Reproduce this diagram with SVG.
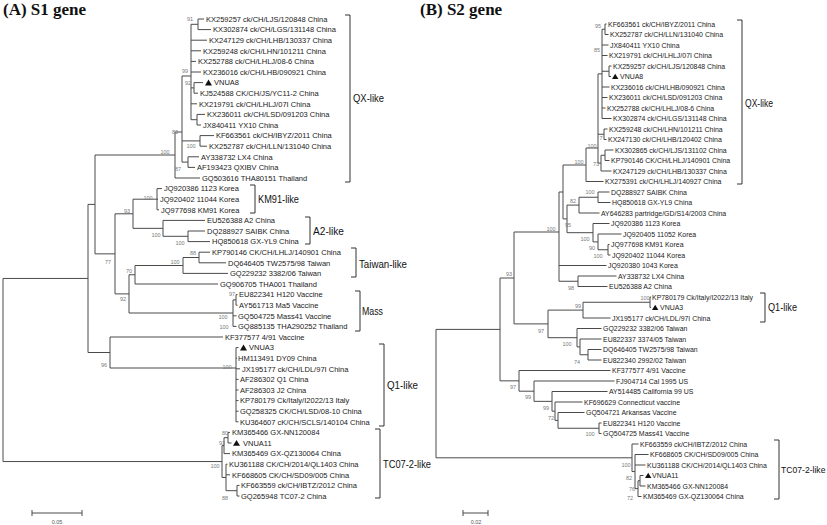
<svg xmlns="http://www.w3.org/2000/svg" width="827" height="525" viewBox="0 0 827 525">
<defs>
<style>
.l{stroke:#4a4a4a;stroke-width:1;fill:none}
.k{stroke:#333;stroke-width:1;fill:none}
.t{font-family:"Liberation Sans",Arial,sans-serif;font-size:7.5px;fill:#1a1a1a}
.r{font-family:"Liberation Sans",Arial,sans-serif;font-size:6.95px;fill:#1a1a1a}
.b{font-family:"Liberation Sans",Arial,sans-serif;font-size:5.5px;fill:#7a7a7a;text-anchor:middle}
.c{font-family:"Liberation Sans",Arial,sans-serif;font-size:11px;fill:#111}
.cr{font-family:"Liberation Sans",Arial,sans-serif;font-size:10px;fill:#111}
.h{font-family:"Liberation Serif","Times New Roman",serif;font-size:17px;font-weight:bold;fill:#111}
.s{font-family:"Liberation Sans",Arial,sans-serif;font-size:5.5px;fill:#555;text-anchor:middle}
</style>
<path id="tri" d="M0,2.8H7L3.5,-3Z" fill="#111"/>
<path id="trir" d="M0,2.6H6.4L3.2,-2.8Z" fill="#111"/>
</defs>
<rect width="827" height="525" fill="#fff"/>
<text class="h" x="3" y="15">(A) S1 gene</text>
<text class="h" x="420" y="15">(B) S2 gene</text>

<g id="connectors">
<path class="l" d="M3,278.45V461.55M3,278.45H88M3,461.55H222
M88,204.4V352.5M88,204.4H95M88,352.5H110
M95,155V253.85M95,155H175M95,253.85H115
M175,132V178M175,132H182M175,178H200
M182,76V162.1M182,76H191M182,140.9H200M182,162.1H188
M191,24.3V119.7M191,24.3H198M191,40.2H207M191,50.8H201M191,61.4H196M191,72H201M191,87.9H194M191,103.8H197M191,119.7H197
M198,19V29.6M198,19H204M198,29.6H211
M194,82.6V93.2M194,82.6H203M194,93.2H198
M197,114.4V125M197,114.4H205M197,125H201
M200,135.6V146.2M200,135.6H214M200,146.2H207
M188,156.8V167.4M188,156.8H199M188,167.4H195
M115,213.8V293.9M115,213.8H133M115,293.9H129
M133,199.2V228.35M133,199.2H157M133,228.35H163
M157,188.6V209.8M157,188.6H162M157,199.2H158M157,209.8H159
M163,220.4V236.3M163,220.4H205M163,236.3H188
M188,231V241.6M188,231H205M188,241.6H210
M129,274.75V313M129,274.75H135M129,313H233
M135,265.5V284M135,265.5H183M135,284H218
M183,257.5V273.4M183,257.5H199M183,273.4H228
M199,252.2V262.8M199,252.2H210M199,262.8H226
M233,299.9V326.4M233,299.9H236M233,315.8H236.5M233,326.4H236.5
M236,294.6V305.2M236,294.6H237.5M236,305.2H237.5
M110,337V368M110,337H223M110,368H236
M236,347.6V421.8M236,347.6H238.5M236,358.2H237M236,368.8H240M236,379.4H238.5M236,390H238.5M236,400.6H238.5M236,411.2H238.5M236,421.8H238.5
M222,445.65V477.45M222,445.65H224M222,477.45H226
M224,437.7V453.6M224,437.7H228M224,453.6H230
M228,432.4V443M228,432.4H230M228,443H231.5
M226,464.2V490.7M226,464.2H227.5M226,474.8H230M226,490.7H237
M237,485.4V496M237,485.4H239.5M237,496H239.5"/>
<path class="l" d="M436,329.4V457.8M436,329.4H500M436,457.8H632
M500,278V380.85M500,278H514M500,380.85H519
M514,232V323.9M514,232H559M514,323.9H548
M559,192V281.25M559,192H563M559,265.5H606.5M559,281.25H578
M563,165V218.9M563,165H586M563,218.9H567
M586,148V181.5M586,148H598M586,181.5H603.5
M598,73.9V163.1M598,73.9H602M598,134.25H604M598,163.1H601
M602,29.25V118.5M602,29.25H605M602,45H608.5M602,55.5H607.5M602,71.25H609M602,87H609.5M602,97.5H607.5M602,108H605.5M602,118.5H611.5
M605,24V34.5M605,24H606.5M605,34.5H608.5
M609,66V76.5M609,66H611.5M609,76.5H611
M604,129V139.5M604,129H607.5M604,139.5H606.5
M601,155.25V171M601,155.25H605M601,171H611.5
M605,150V160.5M605,150H613.5M605,160.5H609.5
M567,205.1V232.7M567,205.1H579M567,232.7H593
M579,197.25V213M579,197.25H598M579,213H599.5
M598,192V202.5M598,192H609.5M598,202.5H610.5
M593,223.5V241.9M593,223.5H609.5M593,241.9H598
M598,234V249.75M598,234H621.5M598,249.75H608
M608,244.5V255M608,244.5H609.5M608,255H610.5
M578,276V286.5M578,276H616.5M578,286.5H607.5
M548,310.1V337.7M548,310.1H583M548,337.7H577
M583,302.25V318M583,302.25H650M583,318H610.5
M650,297V307.5M650,297H651M650,307.5H651
M577,328.5V346.9M577,328.5H601.5M577,346.9H580
M580,339V354.75M580,339H601.5M580,354.75H588
M588,349.5V360M588,349.5H601.5M588,360H601.5
M519,370.5V391.2M519,370.5H610.5M519,391.2H534
M534,381V401.35M534,381H614.5M534,401.35H552
M552,391.5V411.2M552,391.5H607.5M552,411.2H555
M555,402V420.4M555,402H582.5M555,420.4H558
M558,412.5V428.25M558,412.5H584.5M558,428.25H599
M599,423V433.5M599,423H601.5M599,433.5H601.5
M632,444V471.55M632,444H638.5M632,471.55H635
M635,454.5V488.6M635,454.5H648.5M635,465H645.5M635,488.6H638
M638,480.75V496.5M638,480.75H640M638,496.5H641.5
M640,475.5V486M640,475.5H643.5M640,486H645.5"/>
</g>

<g id="scale-bars">
<path class="l" d="M32,513H82M32,510V516M82,510V516M463,513H488M463,510V516M488,510V516"/>
<text class="s" x="57" y="524">0.05</text>
<text class="s" x="476" y="524">0.02</text>
</g>

<g id="left-leaves">
<g id="L0"><text class="t" x="206" y="21.7">KX259257 ck/CH/LJS/120848 China</text></g>
<g id="L1"><text class="t" x="213" y="32.3">KX302874 ck/CH/LGS/131148 China</text></g>
<g id="L2"><text class="t" x="209" y="42.9">KX247129 ck/CH/LHB/130337 China</text></g>
<g id="L3"><text class="t" x="203" y="53.5">KX259248 ck/CH/LHN/101211 China</text></g>
<g id="L4"><text class="t" x="198" y="64.1">KX252788 ck/CH/LHLJ/08-6 China</text></g>
<g id="L5"><text class="t" x="203" y="74.7">KX236016 ck/CH/LHB/090921 China</text></g>
<g id="L6"><use href="#tri" x="205" y="82.6"/><text class="t" x="214" y="85.3">VNUA8</text></g>
<g id="L7"><text class="t" x="200" y="95.9">KJ524588 CK/CH/JS/YC11-2 China</text></g>
<g id="L8"><text class="t" x="199" y="106.5">KX219791 ck/CH/LHLJ/07I China</text></g>
<g id="L9"><text class="t" x="207" y="117.1">KX236011 ck/CH/LSD/091203 China</text></g>
<g id="L10"><text class="t" x="203" y="127.7">JX840411 YX10 China</text></g>
<g id="L11"><text class="t" x="216" y="138.3">KF663561 ck/CH/IBYZ/2011 China</text></g>
<g id="L12"><text class="t" x="209" y="148.9">KX252787 ck/CH/LLN/131040 China</text></g>
<g id="L13"><text class="t" x="201" y="159.5">AY338732 LX4 China</text></g>
<g id="L14"><text class="t" x="197" y="170.1">AF193423 QXIBV China</text></g>
<g id="L15"><text class="t" x="202" y="180.7">GQ503616 THA80151 Thailand</text></g>
<g id="L16"><text class="t" x="164" y="191.3">JQ920386 1123 Korea</text></g>
<g id="L17"><text class="t" x="160" y="201.9">JQ920402 11044 Korea</text></g>
<g id="L18"><text class="t" x="161" y="212.5">JQ977698 KM91 Korea</text></g>
<g id="L19"><text class="t" x="207" y="223.1">EU526388 A2 China</text></g>
<g id="L20"><text class="t" x="207" y="233.7">DQ288927 SAIBK China</text></g>
<g id="L21"><text class="t" x="212" y="244.3">HQ850618 GX-YL9 China</text></g>
<g id="L22"><text class="t" x="212" y="254.9">KP790146 CK/CH/LHLJ/140901 China</text></g>
<g id="L23"><text class="t" x="228" y="265.5">DQ646405 TW2575/98 Taiwan</text></g>
<g id="L24"><text class="t" x="230" y="276.1">GQ229232 3382/06 Taiwan</text></g>
<g id="L25"><text class="t" x="220" y="286.7">GQ906705 THA001 Thailand</text></g>
<g id="L26"><text class="t" x="239" y="297.3">EU822341 H120 Vaccine</text></g>
<g id="L27"><text class="t" x="239" y="307.9">AY561713 Ma5 Vaccine</text></g>
<g id="L28"><text class="t" x="238" y="318.5">GQ504725 Mass41 Vaccine</text></g>
<g id="L29"><text class="t" x="238" y="329.1">GQ885135 THA290252 Thailand</text></g>
<g id="L30"><text class="t" x="225" y="339.7">KF377577 4/91 Vaccine</text></g>
<g id="L31"><use href="#tri" x="240" y="347.6"/><text class="t" x="249" y="350.3">VNUA3</text></g>
<g id="L32"><text class="t" x="238" y="360.9">HM113491 DY09 China</text></g>
<g id="L33"><text class="t" x="242" y="371.5">JX195177 ck/CH/LDL/97I China</text></g>
<g id="L34"><text class="t" x="240" y="382.1">AF286302 Q1 China</text></g>
<g id="L35"><text class="t" x="240" y="392.7">AF286303 J2 China</text></g>
<g id="L36"><text class="t" x="240" y="403.3">KP780179 Ck/Italy/I2022/13 Italy</text></g>
<g id="L37"><text class="t" x="240" y="413.9">GQ258325 CK/CH/LSD/08-10 China</text></g>
<g id="L38"><text class="t" x="240" y="424.5">KU364607 cK/CH/SCLS/140104 China</text></g>
<g id="L39"><text class="t" x="232" y="435.1">KM365466 GX-NN120084</text></g>
<g id="L40"><use href="#tri" x="233" y="443"/><text class="t" x="243" y="445.7">VNUA11</text></g>
<g id="L41"><text class="t" x="232" y="456.3">KM365469 GX-QZ130064 China</text></g>
<g id="L42"><text class="t" x="229" y="466.9">KU361188 CK/CH/2014/QL1403 China</text></g>
<g id="L43"><text class="t" x="232" y="477.5">KF668605 CK/CH/SD09/005 China</text></g>
<g id="L44"><text class="t" x="241" y="488.1">KF663559 ck/CH/IBTZ/2012 China</text></g>
<g id="L45"><text class="t" x="241" y="498.7">GQ265948 TC07-2 China</text></g>
</g>

<g id="right-leaves">
<g id="R0"><text class="r" x="608" y="26.5">KF663561 ck/CH/IBYZ/2011 China</text></g>
<g id="R1"><text class="r" x="610" y="37">KX252787 ck/CH/LLN/131040 China</text></g>
<g id="R2"><text class="r" x="610" y="47.5">JX840411 YX10 China</text></g>
<g id="R3"><text class="r" x="609" y="58">KX219791 ck/CH/LHLJ/07I China</text></g>
<g id="R4"><text class="r" x="613" y="68.5">KX259257 ck/CH/LJS/120848 China</text></g>
<g id="R5"><use href="#trir" x="612" y="76.5"/><text class="r" x="620" y="79">VNUA8</text></g>
<g id="R6"><text class="r" x="611" y="89.5">KX236016 ck/CH/LHB/090921 China</text></g>
<g id="R7"><text class="r" x="609" y="100">KX236011 ck/CH/LSD/091203 China</text></g>
<g id="R8"><text class="r" x="607" y="110.5">KX252788 ck/CH/LHLJ/08-6 China</text></g>
<g id="R9"><text class="r" x="613" y="121">KX302874 ck/CH/LGS/131148 China</text></g>
<g id="R10"><text class="r" x="609" y="131.5">KX259248 ck/CH/LHN/101211 China</text></g>
<g id="R11"><text class="r" x="608" y="142">KX247130 ck/CH/LHB/120402 China</text></g>
<g id="R12"><text class="r" x="615" y="152.5">KX302865 ck/CH/LJS/131102 China</text></g>
<g id="R13"><text class="r" x="611" y="163">KP790146 CK/CH/LHLJ/140901 China</text></g>
<g id="R14"><text class="r" x="613" y="173.5">KX247129 ck/CH/LHB/130337 China</text></g>
<g id="R15"><text class="r" x="605" y="184">KX275391 ck/CH/LHLJ/140927 China</text></g>
<g id="R16"><text class="r" x="611" y="194.5">DQ288927 SAIBK China</text></g>
<g id="R17"><text class="r" x="612" y="205">HQ850618 GX-YL9 China</text></g>
<g id="R18"><text class="r" x="601" y="215.5">AY646283 partridge/GD/S14/2003 China</text></g>
<g id="R19"><text class="r" x="611" y="226">JQ920386 1123 Korea</text></g>
<g id="R20"><text class="r" x="623" y="236.5">JQ920405 11052 Korea</text></g>
<g id="R21"><text class="r" x="611" y="247">JQ977698 KM91 Korea</text></g>
<g id="R22"><text class="r" x="612" y="257.5">JQ920402 11044 Korea</text></g>
<g id="R23"><text class="r" x="608" y="268">JQ920380 1043 Korea</text></g>
<g id="R24"><text class="r" x="618" y="278.5">AY338732 LX4 China</text></g>
<g id="R25"><text class="r" x="609" y="289">EU526388 A2 China</text></g>
<g id="R26"><text class="r" x="652" y="299.5">KP780179 Ck/Italy/I2022/13 Italy</text></g>
<g id="R27"><use href="#trir" x="652" y="307.5"/><text class="r" x="660" y="310">VNUA3</text></g>
<g id="R28"><text class="r" x="612" y="320.5">JX195177 ck/CH/LDL/97I China</text></g>
<g id="R29"><text class="r" x="603" y="331">GQ229232 3382/06 Taiwan</text></g>
<g id="R30"><text class="r" x="603" y="341.5">EU822337 3374/05 Taiwan</text></g>
<g id="R31"><text class="r" x="603" y="352">DQ646405 TW2575/98 Taiwan</text></g>
<g id="R32"><text class="r" x="603" y="362.5">EU822340 2992/02 Taiwan</text></g>
<g id="R33"><text class="r" x="612" y="373">KF377577 4/91 Vaccine</text></g>
<g id="R34"><text class="r" x="616" y="383.5">FJ904714 Cal 1995 US</text></g>
<g id="R35"><text class="r" x="609" y="394">AY514485 California 99 US</text></g>
<g id="R36"><text class="r" x="584" y="404.5">KF696629 Connecticut vaccine</text></g>
<g id="R37"><text class="r" x="586" y="415">GQ504721 Arkansas Vaccine</text></g>
<g id="R38"><text class="r" x="603" y="425.5">EU822341 H120 Vaccine</text></g>
<g id="R39"><text class="r" x="603" y="436">GQ504725 Mass41 Vaccine</text></g>
<g id="R40"><text class="r" x="640" y="446.5">KF663559 ck/CH/IBTZ/2012 China</text></g>
<g id="R41"><text class="r" x="650" y="457">KF668605 CK/CH/SD09/005 China</text></g>
<g id="R42"><text class="r" x="647" y="467.5">KU361188 CK/CH/2014/QL1403 China</text></g>
<g id="R43"><use href="#trir" x="645" y="475.5"/><text class="r" x="652" y="478">VNUA11</text></g>
<g id="R44"><text class="r" x="647" y="488.5">KM365466 GX-NN120084</text></g>
<g id="R45"><text class="r" x="643" y="499">KM365469 GX-QZ130064 China</text></g>
</g>

<g id="bootstrap-left">
<text class="b" x="190" y="21">91</text>
<text class="b" x="185" y="73">99</text>
<text class="b" x="188" y="85">92</text>
<text class="b" x="175" y="134">83</text>
<text class="b" x="191" y="148">100</text>
<text class="b" x="165" y="154">100</text>
<text class="b" x="178" y="171">87</text>
<text class="b" x="148" y="200">100</text>
<text class="b" x="127" y="213">93</text>
<text class="b" x="156" y="237">100</text>
<text class="b" x="180" y="245">100</text>
<text class="b" x="193" y="255">88</text>
<text class="b" x="175" y="264">100</text>
<text class="b" x="108" y="264">77</text>
<text class="b" x="129" y="273">70</text>
<text class="b" x="123" y="301">92</text>
<text class="b" x="232" y="296">97</text>
<text class="b" x="223" y="319">100</text>
<text class="b" x="224" y="329">100</text>
<text class="b" x="104" y="367">96</text>
<text class="b" x="227" y="369">100</text>
<text class="b" x="225" y="435">80</text>
<text class="b" x="222" y="445">93</text>
<text class="b" x="215" y="468">100</text>
<text class="b" x="225" y="500">88</text>
</g>

<g id="bootstrap-right">
<text class="b" x="598" y="28">95</text>
<text class="b" x="597" y="52">85</text>
<text class="b" x="601" y="140">7</text>
<text class="b" x="592" y="148">100</text>
<text class="b" x="596" y="166">73</text>
<text class="b" x="579" y="164">100</text>
<text class="b" x="590" y="194">100</text>
<text class="b" x="573" y="203">82</text>
<text class="b" x="568" y="227">95</text>
<text class="b" x="551" y="231">100</text>
<text class="b" x="585" y="241">100</text>
<text class="b" x="592" y="250">90</text>
<text class="b" x="598" y="258">100</text>
<text class="b" x="571" y="290">98</text>
<text class="b" x="645" y="300">100</text>
<text class="b" x="578" y="308">99</text>
<text class="b" x="541" y="333">97</text>
<text class="b" x="567" y="346">100</text>
<text class="b" x="577" y="364">74</text>
<text class="b" x="509" y="276">93</text>
<text class="b" x="513" y="389">97</text>
<text class="b" x="528" y="399">99</text>
<text class="b" x="546" y="410">99</text>
<text class="b" x="551" y="420">72</text>
<text class="b" x="590" y="436">100</text>
<text class="b" x="626" y="467">100</text>
<text class="b" x="629" y="480">82</text>
<text class="b" x="632" y="491">76</text>
<text class="b" x="630" y="500">72</text>
</g>

<g id="clade-QX-left"><path class="k" d="M345,15H350V182H345"/><text class="c" x="353" y="101.8" textLength="31" lengthAdjust="spacingAndGlyphs">QX-like</text></g>
<g id="clade-KM91-left"><path class="k" d="M250,185H255V213H250"/><text class="c" x="258" y="202.8" textLength="41" lengthAdjust="spacingAndGlyphs">KM91-like</text></g>
<g id="clade-A2-left"><path class="k" d="M305,217H310V244H305"/><text class="c" x="313" y="234.8" textLength="31" lengthAdjust="spacingAndGlyphs">A2-like</text></g>
<g id="clade-Taiwan-left"><path class="k" d="M351,248H356V277H351"/><text class="c" x="359" y="267.8" textLength="48" lengthAdjust="spacingAndGlyphs">Taiwan-like</text></g>
<g id="clade-Mass-left"><path class="k" d="M355,291H360V331H355"/><text class="c" x="362" y="314.8" textLength="21" lengthAdjust="spacingAndGlyphs">Mass</text></g>
<g id="clade-Q1-left"><path class="k" d="M379,344H384V426H379"/><text class="c" x="387" y="388.8" textLength="31" lengthAdjust="spacingAndGlyphs">Q1-like</text></g>
<g id="clade-TC-left"><path class="k" d="M375,429H380V498H375"/><text class="c" x="383" y="467.8" textLength="48" lengthAdjust="spacingAndGlyphs">TC07-2-like</text></g>
<g id="clade-QX-right"><path class="k" d="M737,20H742V184H737"/><text class="cr" x="745" y="106.5" textLength="28" lengthAdjust="spacingAndGlyphs">QX-like</text></g>
<g id="clade-Q1-right"><path class="k" d="M760,293H765V322H760"/><text class="cr" x="768" y="310.5" textLength="29" lengthAdjust="spacingAndGlyphs">Q1-like</text></g>
<g id="clade-TC-right"><path class="k" d="M774,440H779V499H774"/><text class="cr" x="781" y="473" style="font-size:8.6px">TC07-2-like</text></g>
</svg>
